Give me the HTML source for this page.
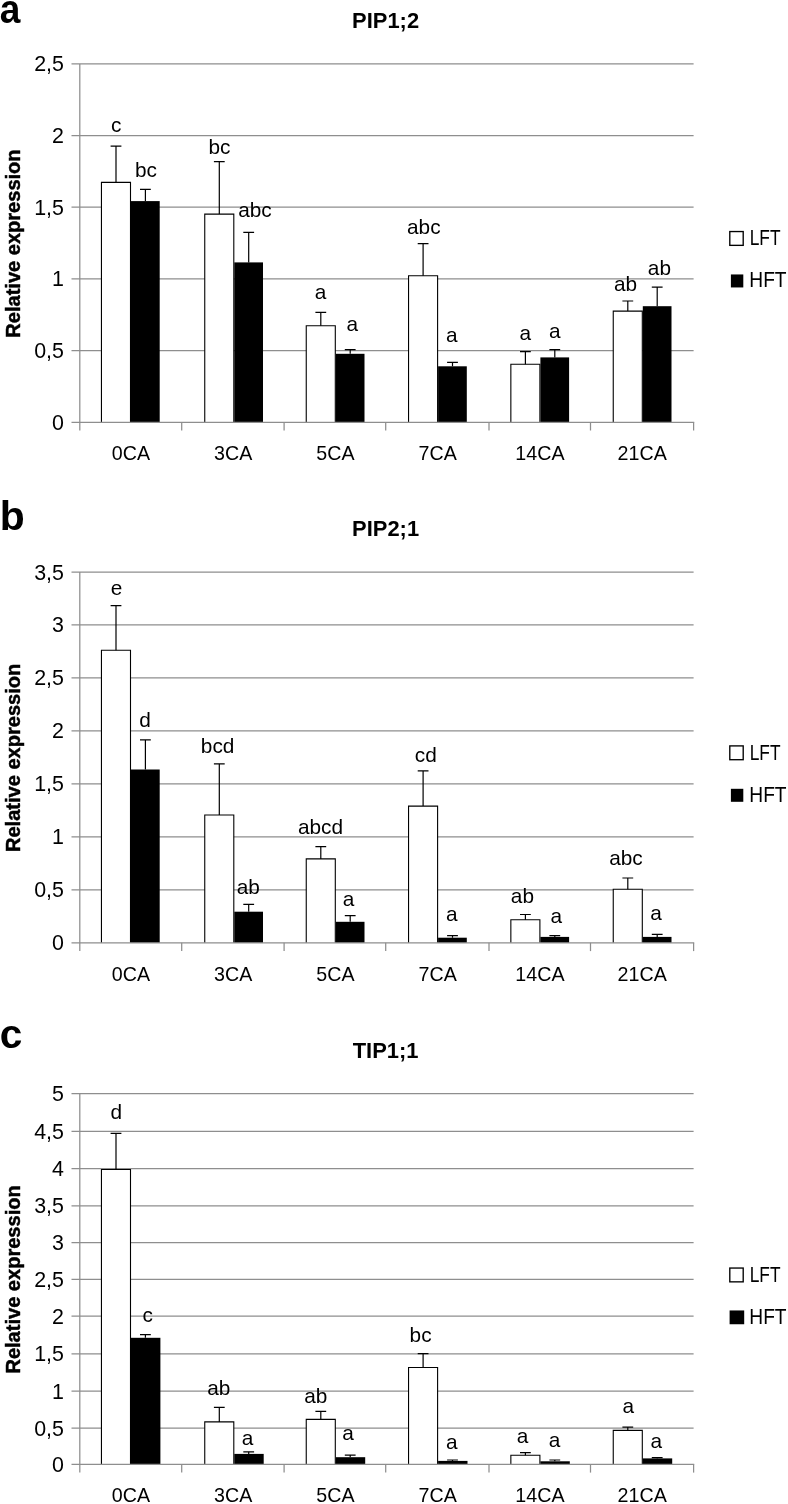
<!DOCTYPE html>
<html lang="en"><head><meta charset="utf-8"><title>Relative expression of PIP1;2, PIP2;1 and TIP1;1</title>
<style>
html,body{margin:0;padding:0;background:#fff;}
body{width:788px;height:1504px;overflow:hidden;}
svg{display:block;}
text{font-family:"Liberation Sans",sans-serif;fill:#000;}
.lab{font-size:20.8px;text-anchor:middle;}
.tick{font-size:21.4px;text-anchor:end;}
.cat{font-size:21px;text-anchor:middle;}
.leg{font-size:21.6px;}
.ttl{font-size:22.5px;font-weight:bold;text-anchor:middle;}
.ytl{font-size:19.3px;font-weight:bold;text-anchor:middle;stroke:#000;stroke-width:0.45px;}
.pl{font-size:39.5px;font-weight:bold;}
.g{stroke:#8e8e8e;stroke-width:1.25;fill:none;}
.wb{fill:#fff;stroke:#000;stroke-width:1.1;}
.bb{fill:#000;stroke:none;}
.eb{stroke:#000;stroke-width:1.2;fill:none;}
</style></head><body>
<svg width="788" height="1504" viewBox="0 0 788 1504">
<rect x="0" y="0" width="788" height="1504" fill="#fff"/>
<g>
<text class="pl" style="font-size:40.3px" transform="translate(-0.3 22.8) scale(0.92 1)" x="0" y="0">a</text>
<text class="ttl" x="385.6" y="27.9" textLength="67" lengthAdjust="spacingAndGlyphs">PIP1;2</text>
<text class="ytl" transform="translate(19.8 243.55) rotate(-90)" x="0" y="0" textLength="188.3" lengthAdjust="spacingAndGlyphs">Relative expression</text>
<text class="tick" x="63.9" y="429.7">0</text>
<line class="g" x1="71.5" y1="350.54" x2="693.6" y2="350.54"/>
<text class="tick" x="63.9" y="358.04">0,5</text>
<line class="g" x1="71.5" y1="278.88" x2="693.6" y2="278.88"/>
<text class="tick" x="63.9" y="286.38">1</text>
<line class="g" x1="71.5" y1="207.22" x2="693.6" y2="207.22"/>
<text class="tick" x="63.9" y="214.72">1,5</text>
<line class="g" x1="71.5" y1="135.56" x2="693.6" y2="135.56"/>
<text class="tick" x="63.9" y="143.06">2</text>
<line class="g" x1="71.5" y1="63.9" x2="693.6" y2="63.9"/>
<text class="tick" x="63.9" y="71.4">2,5</text>
<path class="wb" d="M101.45 422.2V182.4H130.5V422.2"/>
<rect class="bb" x="131" y="201.1" width="28.7" height="221.1"/>
<path class="eb" d="M116 182.4V146.2M110.6 146.2H121.4"/>
<path class="eb" d="M145.4 201.1V189.3M140 189.3H150.8"/>
<path class="wb" d="M204.75 422.2V214.1H233.8V422.2"/>
<rect class="bb" x="234.3" y="262.4" width="28.7" height="159.8"/>
<path class="eb" d="M219.3 214.1V161.7M213.9 161.7H224.7"/>
<path class="eb" d="M248.7 262.4V232.3M243.3 232.3H254.1"/>
<path class="wb" d="M306.25 422.2V325.7H335.3V422.2"/>
<rect class="bb" x="335.8" y="353.8" width="28.7" height="68.4"/>
<path class="eb" d="M320.8 325.7V312.3M315.4 312.3H326.2"/>
<path class="eb" d="M350.2 353.8V349.7M344.8 349.7H355.6"/>
<path class="wb" d="M408.55 422.2V275.8H437.6V422.2"/>
<rect class="bb" x="438.1" y="366.3" width="28.7" height="55.9"/>
<path class="eb" d="M423.1 275.8V243.7M417.7 243.7H428.5"/>
<path class="eb" d="M452.5 366.3V362.3M447.1 362.3H457.9"/>
<path class="wb" d="M510.85 422.2V364.3H539.9V422.2"/>
<rect class="bb" x="540.4" y="357.4" width="28.7" height="64.8"/>
<path class="eb" d="M525.4 364.3V351.7M520 351.7H530.8"/>
<path class="eb" d="M554.8 357.4V349.7M549.4 349.7H560.2"/>
<path class="wb" d="M613.25 422.2V311.1H642.3V422.2"/>
<rect class="bb" x="642.8" y="306.2" width="28.7" height="116"/>
<path class="eb" d="M627.8 311.1V301M622.4 301H633.2"/>
<path class="eb" d="M657.2 306.2V287.2M651.8 287.2H662.6"/>
<line class="g" x1="71.5" y1="422.3" x2="694.2" y2="422.3"/>
<line class="g" x1="79.8" y1="63.9" x2="79.8" y2="430.5"/>
<line class="g" x1="181.7" y1="422.2" x2="181.7" y2="430.5"/>
<line class="g" x1="284.1" y1="422.2" x2="284.1" y2="430.5"/>
<line class="g" x1="385.7" y1="422.2" x2="385.7" y2="430.5"/>
<line class="g" x1="489" y1="422.2" x2="489" y2="430.5"/>
<line class="g" x1="590.5" y1="422.2" x2="590.5" y2="430.5"/>
<line class="g" x1="693.6" y1="422.2" x2="693.6" y2="430.5"/>
<text class="lab" x="116.2" y="131.6">c</text>
<text class="lab" x="146" y="176.7">bc</text>
<text class="lab" x="219.5" y="154">bc</text>
<text class="lab" x="255" y="216.5">abc</text>
<text class="lab" x="320.6" y="298.9">a</text>
<text class="lab" x="352.3" y="331.4">a</text>
<text class="lab" x="423.8" y="233.6">abc</text>
<text class="lab" x="451.7" y="342.4">a</text>
<text class="lab" x="525.2" y="340">a</text>
<text class="lab" x="554.7" y="338.3">a</text>
<text class="lab" x="625.5" y="291.2">ab</text>
<text class="lab" x="659.4" y="275">ab</text>
<text class="cat" x="130.93" y="459.9" textLength="38.2" lengthAdjust="spacingAndGlyphs">0CA</text>
<text class="cat" x="233.18" y="459.9" textLength="38.2" lengthAdjust="spacingAndGlyphs">3CA</text>
<text class="cat" x="335.43" y="459.9" textLength="38.2" lengthAdjust="spacingAndGlyphs">5CA</text>
<text class="cat" x="437.68" y="459.9" textLength="38.2" lengthAdjust="spacingAndGlyphs">7CA</text>
<text class="cat" x="539.92" y="459.9" textLength="49.2" lengthAdjust="spacingAndGlyphs">14CA</text>
<text class="cat" x="642.17" y="459.9" textLength="49.2" lengthAdjust="spacingAndGlyphs">21CA</text>
<rect x="729.8" y="231.55" width="13.4" height="13.8" fill="#fff" stroke="#000" stroke-width="1.35"/>
<text class="leg" x="749.7" y="245.35" textLength="30.8" lengthAdjust="spacingAndGlyphs">LFT</text>
<rect x="730.9" y="274.45" width="12.4" height="13" fill="#000"/>
<text class="leg" x="749.3" y="287.25" textLength="37.3" lengthAdjust="spacingAndGlyphs">HFT</text>
</g>
<g>
<text class="pl" style="font-size:40.5px" transform="translate(-0.3 529.8) scale(1.01 1)" x="0" y="0">b</text>
<text class="ttl" x="385.6" y="536.1" textLength="67" lengthAdjust="spacingAndGlyphs">PIP2;1</text>
<text class="ytl" transform="translate(19.8 757.9) rotate(-90)" x="0" y="0" textLength="188.3" lengthAdjust="spacingAndGlyphs">Relative expression</text>
<text class="tick" x="63.9" y="950.3">0</text>
<line class="g" x1="71.5" y1="889.83" x2="693.6" y2="889.83"/>
<text class="tick" x="63.9" y="897.33">0,5</text>
<line class="g" x1="71.5" y1="836.86" x2="693.6" y2="836.86"/>
<text class="tick" x="63.9" y="844.36">1</text>
<line class="g" x1="71.5" y1="783.89" x2="693.6" y2="783.89"/>
<text class="tick" x="63.9" y="791.39">1,5</text>
<line class="g" x1="71.5" y1="730.91" x2="693.6" y2="730.91"/>
<text class="tick" x="63.9" y="738.41">2</text>
<line class="g" x1="71.5" y1="677.94" x2="693.6" y2="677.94"/>
<text class="tick" x="63.9" y="685.44">2,5</text>
<line class="g" x1="71.5" y1="624.97" x2="693.6" y2="624.97"/>
<text class="tick" x="63.9" y="632.47">3</text>
<line class="g" x1="71.5" y1="572" x2="693.6" y2="572"/>
<text class="tick" x="63.9" y="579.5">3,5</text>
<path class="wb" d="M101.45 942.8V650.3H130.5V942.8"/>
<rect class="bb" x="131" y="769.5" width="28.7" height="173.3"/>
<path class="eb" d="M116 650.3V605.7M110.6 605.7H121.4"/>
<path class="eb" d="M145.4 769.5V739.9M140 739.9H150.8"/>
<path class="wb" d="M204.75 942.8V815H233.8V942.8"/>
<rect class="bb" x="234.3" y="911.7" width="28.7" height="31.1"/>
<path class="eb" d="M219.3 815V763.9M213.9 763.9H224.7"/>
<path class="eb" d="M248.7 911.7V904.4M243.3 904.4H254.1"/>
<path class="wb" d="M306.25 942.8V858.9H335.3V942.8"/>
<rect class="bb" x="335.8" y="921.8" width="28.7" height="21"/>
<path class="eb" d="M320.8 858.9V846.7M315.4 846.7H326.2"/>
<path class="eb" d="M350.2 921.8V915.7M344.8 915.7H355.6"/>
<path class="wb" d="M408.55 942.8V806.1H437.6V942.8"/>
<rect class="bb" x="438.1" y="937.7" width="28.7" height="5.1"/>
<path class="eb" d="M423.1 806.1V770.8M417.7 770.8H428.5"/>
<path class="eb" d="M452.5 937.7V935.6M447.1 935.6H457.9"/>
<path class="wb" d="M510.85 942.8V919.8H539.9V942.8"/>
<rect class="bb" x="540.4" y="936.9" width="28.7" height="5.9"/>
<path class="eb" d="M525.4 919.8V914.5M520 914.5H530.8"/>
<path class="eb" d="M554.8 936.9V935.6M549.4 935.6H560.2"/>
<path class="wb" d="M613.25 942.8V889.3H642.3V942.8"/>
<rect class="bb" x="642.8" y="936.9" width="28.7" height="5.9"/>
<path class="eb" d="M627.8 889.3V878M622.4 878H633.2"/>
<path class="eb" d="M657.2 936.9V934.4M651.8 934.4H662.6"/>
<line class="g" x1="71.5" y1="942.9" x2="694.2" y2="942.9"/>
<line class="g" x1="79.8" y1="572" x2="79.8" y2="951.1"/>
<line class="g" x1="181.7" y1="942.8" x2="181.7" y2="951.1"/>
<line class="g" x1="284.1" y1="942.8" x2="284.1" y2="951.1"/>
<line class="g" x1="385.7" y1="942.8" x2="385.7" y2="951.1"/>
<line class="g" x1="489" y1="942.8" x2="489" y2="951.1"/>
<line class="g" x1="590.5" y1="942.8" x2="590.5" y2="951.1"/>
<line class="g" x1="693.6" y1="942.8" x2="693.6" y2="951.1"/>
<text class="lab" x="116.5" y="594.5">e</text>
<text class="lab" x="145" y="726.5">d</text>
<text class="lab" x="217.6" y="753.3">bcd</text>
<text class="lab" x="248.2" y="893.8">ab</text>
<text class="lab" x="320.5" y="834.1">abcd</text>
<text class="lab" x="348.5" y="906">a</text>
<text class="lab" x="425.8" y="761.8">cd</text>
<text class="lab" x="451.7" y="920.6">a</text>
<text class="lab" x="522.4" y="903.1">ab</text>
<text class="lab" x="556.2" y="922.6">a</text>
<text class="lab" x="626" y="865">abc</text>
<text class="lab" x="656" y="920.2">a</text>
<text class="cat" x="130.93" y="980.5" textLength="38.2" lengthAdjust="spacingAndGlyphs">0CA</text>
<text class="cat" x="233.18" y="980.5" textLength="38.2" lengthAdjust="spacingAndGlyphs">3CA</text>
<text class="cat" x="335.43" y="980.5" textLength="38.2" lengthAdjust="spacingAndGlyphs">5CA</text>
<text class="cat" x="437.68" y="980.5" textLength="38.2" lengthAdjust="spacingAndGlyphs">7CA</text>
<text class="cat" x="539.92" y="980.5" textLength="49.2" lengthAdjust="spacingAndGlyphs">14CA</text>
<text class="cat" x="642.17" y="980.5" textLength="49.2" lengthAdjust="spacingAndGlyphs">21CA</text>
<rect x="729.8" y="745.9" width="13.4" height="13.8" fill="#fff" stroke="#000" stroke-width="1.35"/>
<text class="leg" x="749.7" y="759.7" textLength="30.8" lengthAdjust="spacingAndGlyphs">LFT</text>
<rect x="730.9" y="788.8" width="12.4" height="13" fill="#000"/>
<text class="leg" x="749.3" y="801.6" textLength="37.3" lengthAdjust="spacingAndGlyphs">HFT</text>
</g>
<g>
<text class="pl" style="font-size:40.2px" transform="translate(-0.3 1048.1) scale(1.01 1)" x="0" y="0">c</text>
<text class="ttl" x="385.6" y="1057.5" textLength="65.8" lengthAdjust="spacingAndGlyphs">TIP1;1</text>
<text class="ytl" transform="translate(19.8 1279.45) rotate(-90)" x="0" y="0" textLength="188.3" lengthAdjust="spacingAndGlyphs">Relative expression</text>
<text class="tick" x="63.9" y="1471.8">0</text>
<line class="g" x1="71.5" y1="1428" x2="693.6" y2="1428"/>
<text class="tick" x="63.9" y="1435.5">0,5</text>
<line class="g" x1="71.5" y1="1391.2" x2="693.6" y2="1391.2"/>
<text class="tick" x="63.9" y="1398.7">1</text>
<line class="g" x1="71.5" y1="1353.8" x2="693.6" y2="1353.8"/>
<text class="tick" x="63.9" y="1361.3">1,5</text>
<line class="g" x1="71.5" y1="1316.2" x2="693.6" y2="1316.2"/>
<text class="tick" x="63.9" y="1323.7">2</text>
<line class="g" x1="71.5" y1="1279.3" x2="693.6" y2="1279.3"/>
<text class="tick" x="63.9" y="1286.8">2,5</text>
<line class="g" x1="71.5" y1="1242.7" x2="693.6" y2="1242.7"/>
<text class="tick" x="63.9" y="1250.2">3</text>
<line class="g" x1="71.5" y1="1205.8" x2="693.6" y2="1205.8"/>
<text class="tick" x="63.9" y="1213.3">3,5</text>
<line class="g" x1="71.5" y1="1168.6" x2="693.6" y2="1168.6"/>
<text class="tick" x="63.9" y="1176.1">4</text>
<line class="g" x1="71.5" y1="1131.3" x2="693.6" y2="1131.3"/>
<text class="tick" x="63.9" y="1138.8">4,5</text>
<line class="g" x1="71.5" y1="1093.7" x2="693.6" y2="1093.7"/>
<text class="tick" x="63.9" y="1101.2">5</text>
<path class="wb" d="M101.45 1464.3V1169.5H130.5V1464.3"/>
<rect class="bb" x="131" y="1337.8" width="29.4" height="126.5"/>
<path class="eb" d="M116 1169.5V1133.4M110.6 1133.4H121.4"/>
<path class="eb" d="M145.4 1337.8V1334.6M140 1334.6H150.8"/>
<path class="wb" d="M204.75 1464.3V1421.9H233.8V1464.3"/>
<rect class="bb" x="234.3" y="1453.9" width="29.4" height="10.4"/>
<path class="eb" d="M219.3 1421.9V1407.3M213.9 1407.3H224.7"/>
<path class="eb" d="M248.7 1453.9V1451.9M243.3 1451.9H254.1"/>
<path class="wb" d="M306.25 1464.3V1419.4H335.3V1464.3"/>
<rect class="bb" x="335.8" y="1457.2" width="29.4" height="7.1"/>
<path class="eb" d="M320.8 1419.4V1411.3M315.4 1411.3H326.2"/>
<path class="eb" d="M350.2 1457.2V1455.2M344.8 1455.2H355.6"/>
<path class="wb" d="M408.55 1464.3V1367.5H437.6V1464.3"/>
<rect class="bb" x="438.1" y="1460.9" width="29.4" height="3.4"/>
<path class="eb" d="M423.1 1367.5V1353.6M417.7 1353.6H428.5"/>
<path class="eb" d="M452.5 1460.9V1460M447.1 1460H457.9"/>
<path class="wb" d="M510.85 1464.3V1455.2H539.9V1464.3"/>
<rect class="bb" x="540.4" y="1461.3" width="29.4" height="3"/>
<path class="eb" d="M525.4 1455.2V1452.7M520 1452.7H530.8"/>
<path class="eb" d="M554.8 1461.3V1460M549.4 1460H560.2"/>
<path class="wb" d="M613.25 1464.3V1430.4H642.3V1464.3"/>
<rect class="bb" x="642.8" y="1458.4" width="29.4" height="5.9"/>
<path class="eb" d="M627.8 1430.4V1427.1M622.4 1427.1H633.2"/>
<path class="eb" d="M657.2 1458.4V1457.6M651.8 1457.6H662.6"/>
<line class="g" x1="71.5" y1="1464.4" x2="694.2" y2="1464.4"/>
<line class="g" x1="79.8" y1="1093.6" x2="79.8" y2="1472.6"/>
<line class="g" x1="181.7" y1="1464.3" x2="181.7" y2="1472.6"/>
<line class="g" x1="284.1" y1="1464.3" x2="284.1" y2="1472.6"/>
<line class="g" x1="385.7" y1="1464.3" x2="385.7" y2="1472.6"/>
<line class="g" x1="489" y1="1464.3" x2="489" y2="1472.6"/>
<line class="g" x1="590.5" y1="1464.3" x2="590.5" y2="1472.6"/>
<line class="g" x1="693.6" y1="1464.3" x2="693.6" y2="1472.6"/>
<text class="lab" x="116.4" y="1118.5">d</text>
<text class="lab" x="147.6" y="1321.6">c</text>
<text class="lab" x="218.7" y="1395.1">ab</text>
<text class="lab" x="247.5" y="1444.6">a</text>
<text class="lab" x="315.8" y="1402.8">ab</text>
<text class="lab" x="348" y="1440.1">a</text>
<text class="lab" x="420.6" y="1342.3">bc</text>
<text class="lab" x="451.7" y="1449.1">a</text>
<text class="lab" x="522.5" y="1443.4">a</text>
<text class="lab" x="554.6" y="1447">a</text>
<text class="lab" x="628.2" y="1413.3">a</text>
<text class="lab" x="656.2" y="1448.3">a</text>
<text class="cat" x="130.93" y="1502" textLength="38.2" lengthAdjust="spacingAndGlyphs">0CA</text>
<text class="cat" x="233.18" y="1502" textLength="38.2" lengthAdjust="spacingAndGlyphs">3CA</text>
<text class="cat" x="335.43" y="1502" textLength="38.2" lengthAdjust="spacingAndGlyphs">5CA</text>
<text class="cat" x="437.68" y="1502" textLength="38.2" lengthAdjust="spacingAndGlyphs">7CA</text>
<text class="cat" x="539.92" y="1502" textLength="49.2" lengthAdjust="spacingAndGlyphs">14CA</text>
<text class="cat" x="642.17" y="1502" textLength="49.2" lengthAdjust="spacingAndGlyphs">21CA</text>
<rect x="729.8" y="1268.05" width="13.4" height="13.8" fill="#fff" stroke="#000" stroke-width="1.35"/>
<text class="leg" x="749.7" y="1281.85" textLength="30.8" lengthAdjust="spacingAndGlyphs">LFT</text>
<rect x="729.6" y="1310.45" width="14.6" height="13.8" fill="#000"/>
<text class="leg" x="749.3" y="1323.75" textLength="37.3" lengthAdjust="spacingAndGlyphs">HFT</text>
</g>
</svg></body></html>
